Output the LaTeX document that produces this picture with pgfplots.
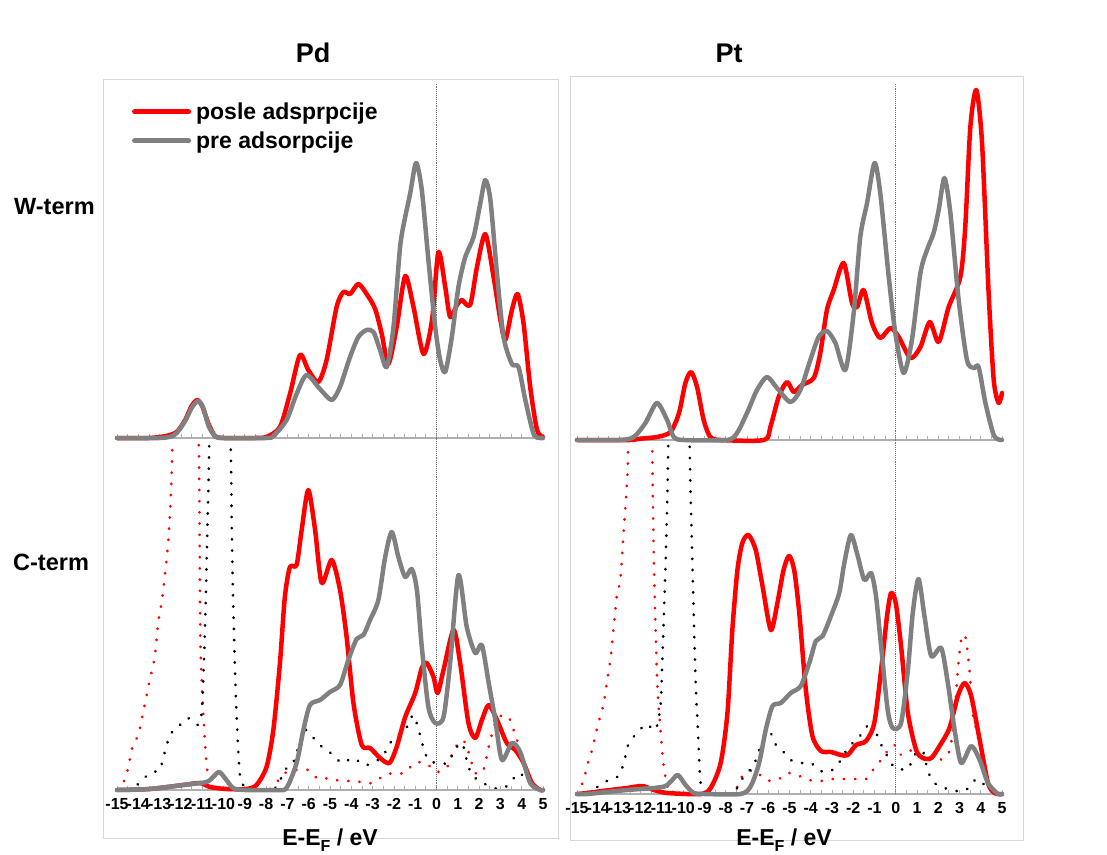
\documentclass[border=0pt]{standalone}
\usepackage{fontspec}
\setmainfont{Liberation Sans}
\usepackage{pgfplots}
\pgfplotsset{compat=1.18}
\definecolor{myred}{RGB}{255,0,0}
\definecolor{mygray}{RGB}{128,128,128}
\definecolor{boxgray}{RGB}{215,215,215}
\definecolor{basegray}{RGB}{175,175,175}
\pgfplotsset{
  panel/.style={scale only axis, anchor=south west, xmin=-15, xmax=5, ymin=0,
    axis x line=bottom, axis y line=none, x axis line style={-, draw=basegray, line width=1.3pt},
    xtick={-15,...,5}, minor x tick num=1, tick align=inside,
    major tick length=4pt, minor tick length=4pt,
    tick style={basegray, line width=0.8pt}, clip=false,
    xticklabel style={font=\bfseries\fontsize{16}{16}\selectfont, inner sep=1pt, yshift=-7pt}},
  dotpanel/.style={scale only axis, anchor=south west, xmin=-15, xmax=5, ymin=0, hide axis, clip=true},
  thk/.style={line width=4.5pt, smooth, tension=0.45, line join=round, line cap=round},
  rline/.style={thk, myred},
  gline/.style={thk, mygray},
  dotstyle/.style={smooth, tension=0.45, line width=2.8pt, line cap=round, dash pattern=on 0.3pt off 10.9pt},
  zline/.style={black!55, densely dotted, line width=0.9pt, forget plot},
}
\newcommand{\xlab}{E-E\raisebox{-6pt}{\fontsize{16}{16}\selectfont F} / eV}
\begin{document}
\begin{tikzpicture}[x=1pt,y=1pt]
\useasboundingbox (0,0) rectangle (1107,854);
% frames
\draw[boxgray, line width=1pt] (103,16) rectangle (558,774);
\draw[boxgray, line width=1pt] (570,14) rectangle (1023,777);
% titles
\node[font=\bfseries\fontsize{27}{27}\selectfont] at (313,801) {Pd};
\node[font=\bfseries\fontsize{27}{27}\selectfont] at (729,801) {Pt};
\node[font=\bfseries\fontsize{23.5}{23.5}\selectfont, anchor=west, inner sep=0pt] at (14,647) {W-term};
\node[font=\bfseries\fontsize{23.5}{23.5}\selectfont, anchor=west, inner sep=0pt] at (13,292) {C-term};
\node[font=\bfseries\fontsize{23}{23}\selectfont, anchor=base, inner sep=0pt] at (330,9) {\xlab};
\node[font=\bfseries\fontsize{23}{23}\selectfont, anchor=base, inner sep=0pt] at (784,9) {\xlab};

% ---------------- Pd top (W-term)
\begin{axis}[panel, at={(117pt,416pt)}, width=426pt, height=358pt, ymax=358, xticklabels={},
  legend style={at={(0.035,0.94)}, anchor=north west, draw=none, fill=none, inner sep=0pt,
    font=\bfseries\fontsize{23}{23}\selectfont, row sep=9pt,
    nodes={inner xsep=5pt, inner ysep=1pt}},
  legend cell align=left,
  legend image code/.code={\draw[#1, line width=5pt, line cap=round] (0pt,0pt) -- (54pt,0pt);}]
\addplot[zline] coordinates {(0,0) (0,355)};
\addplot[rline] coordinates {(-15,0)(-13.5,0)(-12.7,2)(-12.2,6)(-11.8,18)(-11.5,32)(-11.24,38)(-11.0,32)(-10.7,14)(-10.4,2)(-10,0)(-8.5,0)(-7.98,1)(-7.35,11)(-6.88,44)(-6.41,83)(-6.02,68)(-5.55,56)(-5.16,78)(-4.69,131)(-4.37,146)(-4.06,144)(-3.67,154)(-3.28,144)(-2.88,129)(-2.57,104)(-2.26,74)(-1.87,111)(-1.47,162)(-1.08,131)(-0.61,84)(-0.21,118)(0.09,186)(0.41,151)(0.64,121)(0.96,133)(1.19,138)(1.58,133)(1.9,171)(2.29,204)(2.68,161)(3.0,118)(3.23,98)(3.54,128)(3.81,144)(4.09,114)(4.4,51)(4.72,8)(5,1)};
\addlegendentry{posle adsprpcije}
\addplot[gline] coordinates {(-15,0)(-13,0)(-12.3,3)(-11.8,17)(-11.5,30)(-11.2,37)(-10.95,30)(-10.7,12)(-10.4,2)(-10,0)(-8,0)(-7.66,2)(-7.04,18)(-6.57,44)(-6.1,63)(-5.47,49)(-4.92,38)(-4.53,51)(-4.06,81)(-3.67,101)(-3.28,108)(-2.96,106)(-2.65,88)(-2.34,71)(-2.02,111)(-1.71,191)(-1.47,221)(-1.24,244)(-0.96,275)(-0.69,248)(-0.38,178)(-0.06,111)(0.17,78)(0.41,66)(0.72,101)(1.03,151)(1.35,181)(1.74,201)(2.05,234)(2.29,258)(2.53,238)(2.84,164)(3.15,101)(3.54,74)(3.85,71)(4.17,38)(4.56,4)(4.87,0)(5,0)};
\addlegendentry{pre adsorpcije}
\end{axis}

% ---------------- Pd bottom (C-term) dotted
\begin{axis}[dotpanel, at={(117pt,64pt)}, width=426pt, height=348pt, ymax=348]
\addplot[dotstyle, myred] coordinates {(-15,0)(-14.64,10)(-14.48,22)(-14.25,45)(-14.0,55)(-13.78,77)(-13.46,110)(-13.23,133)(-13.07,167)(-12.9,188)(-12.76,213)(-12.6,247)(-12.49,287)(-12.4,347)(-12.2,600)(-11.8,700)(-11.35,600)(-11.16,347)(-11.12,250)(-11.08,143)(-10.95,77)(-10.8,27)(-10.64,7)(-10.4,1)(-8,0)(-7.5,8)(-7.12,17)(-6.57,20)(-6.02,20)(-5.55,11)(-5.0,12)(-4.53,9)(-4.0,9)(-3.55,8)(-3.0,7)(-2.43,15)(-1.96,17)(-1.5,17)(-1.03,27)(-0.5,27)(0,18)(0.5,23)(0.8,40)(1.2,50)(1.43,43)(1.82,17)(2.2,20)(2.45,43)(2.76,67)(3.07,75)(3.3,74)(3.46,70)(3.62,60)(3.93,40)(4.25,17)(4.56,3)(4.8,0)(5,0)};
\addplot[dotstyle, black] coordinates {(-15,0)(-14.4,0)(-13.9,8)(-13.46,17)(-12.99,20)(-12.84,32)(-12.68,43)(-12.53,55)(-12.14,63)(-11.67,72)(-11.2,65)(-11.03,77)(-10.92,127)(-10.83,193)(-10.76,260)(-10.71,300)(-10.67,347)(-10.5,600)(-10.2,700)(-9.85,600)(-9.66,343)(-9.61,260)(-9.55,193)(-9.47,127)(-9.39,77)(-9.24,17)(-9.08,5)(-8.5,1)(-8.05,0)(-7.5,3)(-7.12,20)(-6.73,27)(-6.41,48)(-6.13,60)(-5.62,48)(-5.31,42)(-4.84,35)(-4.45,27)(-3.9,32)(-3.43,25)(-2.96,27)(-2.49,35)(-2.18,47)(-1.79,55)(-1.39,63)(-1.08,75)(-0.77,55)(-0.61,42)(-0.38,30)(0,27)(0.55,27)(0.8,38)(1.2,47)(1.5,23)(1.82,12)(2.37,5)(2.92,1)(3.38,5)(3.85,17)(4.25,10)(4.64,1)(5,0)};
\end{axis}
% ---------------- Pd bottom thick
\begin{axis}[panel, at={(117pt,64pt)}, width=426pt, height=348pt, ymax=348,
  xticklabels={-15,-14,-13,-12,-11,-10,-9,-8,-7,-6,-5,-4,-3,-2,-1,0,1,2,3,4,5}]
\addplot[zline] coordinates {(0,0) (0,352)};
\addplot[rline] coordinates {(-15,0)(-13.46,1)(-11.9,5)(-11.1,7)(-10.64,3)(-9.86,1)(-8.92,1)(-8.45,5)(-7.98,23)(-7.66,60)(-7.35,127)(-7.12,193)(-6.88,223)(-6.57,225)(-6.33,260)(-6.02,300)(-5.7,260)(-5.39,207)(-4.92,230)(-4.53,200)(-4.22,153)(-3.9,87)(-3.51,45)(-3.12,42)(-2.65,32)(-2.21,27)(-1.87,43)(-1.47,73)(-1.0,97)(-0.69,122)(-0.46,127)(-0.14,113)(0.05,97)(0.33,120)(0.8,160)(1.11,127)(1.5,67)(1.82,52)(2.13,70)(2.45,85)(2.84,70)(3.3,47)(3.7,40)(4.09,27)(4.48,7)(4.87,0)(5,0)};
\addplot[gline] coordinates {(-15,0)(-13.46,1)(-11.9,5)(-10.8,8)(-10.49,13)(-10.2,18)(-9.86,10)(-9.55,2)(-9,0)(-7.5,0)(-7.04,2)(-6.57,27)(-6.25,60)(-5.94,85)(-5.47,90)(-5.0,98)(-4.53,105)(-4.14,130)(-3.75,151)(-3.43,155)(-3.12,170)(-2.73,190)(-2.41,233)(-2.1,258)(-1.79,233)(-1.47,213)(-1.16,221)(-0.92,200)(-0.69,143)(-0.38,83)(-0.06,67)(0.33,73)(0.64,127)(1.03,215)(1.42,163)(1.82,137)(2.13,145)(2.45,107)(2.76,70)(3.07,30)(3.54,47)(3.93,38)(4.4,7)(4.87,0)(5,0)};
\end{axis}

% ---------------- Pt top (W-term)
\begin{axis}[panel, at={(577pt,414pt)}, width=425pt, height=360pt, ymax=360, xticklabels={}]
\addplot[zline] coordinates {(0,0) (0,357)};
\addplot[rline] coordinates {(-15,0)(-12.5,0)(-12.18,1)(-11.24,3)(-10.6,8)(-10.2,27)(-9.9,57)(-9.63,68)(-9.35,53)(-9.04,20)(-8.73,3)(-8.25,0)(-6.2,0)(-5.9,13)(-5.51,43)(-5.12,58)(-4.8,48)(-4.41,55)(-3.86,62)(-3.55,87)(-3.24,130)(-2.92,150)(-2.45,177)(-2.06,137)(-1.82,133)(-1.51,150)(-1.12,117)(-0.73,102)(-0.25,112)(0.14,103)(0.69,82)(1.16,93)(1.6,118)(2.02,98)(2.49,133)(3.04,163)(3.27,213)(3.51,313)(3.79,350)(4.06,297)(4.37,147)(4.61,60)(4.84,37)(5,47)};
\addplot[gline] coordinates {(-15,0)(-13,0)(-12.33,3)(-11.78,17)(-11.24,37)(-10.76,20)(-10.45,3)(-9.98,0)(-7.94,0)(-7.47,7)(-7.0,27)(-6.53,50)(-6.06,63)(-5.59,52)(-4.96,38)(-4.49,50)(-4.02,80)(-3.63,103)(-3.24,109)(-2.84,97)(-2.37,70)(-1.98,127)(-1.67,203)(-1.35,237)(-1.0,277)(-0.73,247)(-0.33,163)(-0.02,107)(0.37,67)(0.76,100)(1.16,167)(1.47,190)(1.78,207)(2.02,230)(2.29,262)(2.57,227)(2.96,140)(3.35,80)(3.67,72)(3.9,73)(4.22,37)(4.61,5)(4.92,0)(5,0)};
\end{axis}

% ---------------- Pt bottom dotted
\begin{axis}[dotpanel, at={(577pt,60pt)}, width=425pt, height=349pt, ymax=349]
\addplot[dotstyle, myred] coordinates {(-15,0)(-14.72,12)(-14.45,34)(-14.29,44)(-14.03,68)(-13.74,91)(-13.58,114)(-13.43,134)(-13.27,168)(-13.11,201)(-12.96,214)(-12.8,264)(-12.67,304)(-12.59,349)(-12.4,600)(-12.0,700)(-11.6,600)(-11.46,343)(-11.38,231)(-11.23,114)(-11.07,64)(-10.94,31)(-10.75,8)(-10.5,1)(-8,0)(-7.6,1)(-7.22,18)(-6.67,24)(-6.12,14)(-5.57,14)(-5.1,21)(-4.54,18)(-4.07,14)(-3.52,13)(-2.97,15)(-2.42,15)(-1.95,15)(-1.4,15)(-1.01,26)(-0.69,34)(-0.46,41)(-0.06,49)(0.25,39)(0.8,44)(1.27,36)(2.06,34)(2.53,43)(2.77,81)(2.92,124)(3.08,154)(3.27,158)(3.47,124)(3.62,81)(3.86,58)(4.18,24)(4.58,1)(5,0)};
\addplot[dotstyle, black] coordinates {(-15,0)(-14.53,0)(-13.98,8)(-13.51,14)(-13.04,18)(-12.8,31)(-12.56,51)(-12.17,61)(-11.73,70)(-11.31,64)(-11.07,88)(-10.99,131)(-10.83,231)(-10.75,298)(-10.71,344)(-10.5,600)(-10.2,700)(-9.9,600)(-9.69,338)(-9.61,264)(-9.53,198)(-9.42,114)(-9.31,64)(-9.18,11)(-8.87,1)(-7.92,0)(-7.53,4)(-7.14,18)(-6.7,28)(-6.35,48)(-5.91,61)(-5.64,49)(-5.33,43)(-4.94,34)(-4.54,31)(-4.0,31)(-3.52,23)(-3.05,23)(-2.58,34)(-2.26,46)(-1.87,54)(-1.48,63)(-1.16,73)(-0.77,53)(-0.53,43)(-0.22,31)(0,26)(0.57,25)(0.88,39)(1.27,43)(1.51,23)(1.82,11)(2.3,6)(2.85,3)(3.32,4)(3.79,15)(4.18,9)(4.65,0)(5,0)};
\end{axis}
% ---------------- Pt bottom thick
\begin{axis}[panel, at={(577pt,60pt)}, width=425pt, height=349pt, ymax=349,
  xticklabels={-15,-14,-13,-12,-11,-10,-9,-8,-7,-6,-5,-4,-3,-2,-1,0,1,2,3,4,5}]
\addplot[zline] coordinates {(0,0) (0,354)};
\addplot[rline] coordinates {(-15,0)(-14.53,1)(-13.43,4)(-12.64,6)(-11.93,8)(-11.38,4)(-10.75,1)(-9.18,0)(-8.71,6)(-8.24,31)(-7.92,81)(-7.69,164)(-7.45,224)(-7.22,251)(-6.93,259)(-6.59,244)(-6.27,208)(-5.88,164)(-5.57,191)(-5.28,224)(-5.02,238)(-4.78,224)(-4.54,181)(-4.23,104)(-3.92,58)(-3.52,43)(-3.05,42)(-2.58,39)(-2.26,39)(-1.87,49)(-1.4,53)(-1.01,71)(-0.69,124)(-0.41,178)(-0.22,201)(0.0,191)(0.25,148)(0.57,81)(0.96,44)(1.27,36)(1.67,36)(2.06,48)(2.53,66)(2.92,98)(3.24,111)(3.55,98)(3.95,54)(4.34,11)(4.65,1)(5,0)};
\addplot[gline] coordinates {(-15,0)(-14.53,0)(-12.64,4)(-11.38,6)(-10.83,8)(-10.52,14)(-10.25,19)(-9.89,9)(-9.5,1)(-9,0)(-7.3,0)(-6.82,8)(-6.43,31)(-6.12,64)(-5.8,88)(-5.41,91)(-4.94,101)(-4.47,108)(-4.07,131)(-3.76,153)(-3.44,158)(-3.05,178)(-2.66,201)(-2.42,231)(-2.11,259)(-1.79,238)(-1.48,214)(-1.16,221)(-0.93,198)(-0.69,148)(-0.38,84)(-0.14,66)(0.25,71)(0.57,124)(0.8,181)(1.07,215)(1.35,178)(1.67,138)(2.14,146)(2.45,111)(2.77,64)(3.08,31)(3.55,48)(3.95,34)(4.34,11)(4.81,0)(5,0)};
\end{axis}
\end{tikzpicture}
\end{document}
